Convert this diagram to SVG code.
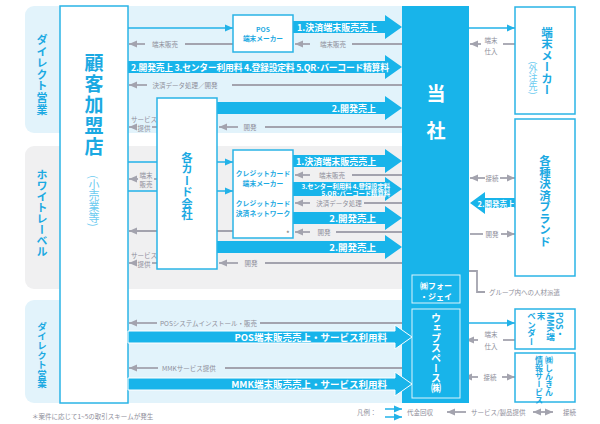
<svg xmlns="http://www.w3.org/2000/svg" width="600" height="424" viewBox="0 0 600 424">
<defs>
<style>
text{font-family:"Noto Sans CJK JP","Noto Sans",sans-serif;dominant-baseline:central}
.bb{fill:#e2f3fb}
.gb{fill:#f0f0f1}
.box{fill:#fff;stroke:#2ab4e6;stroke-width:1.5}
.fat{fill:#18b4ea}
.fatw{fill:#18b4ea;stroke:#fff;stroke-width:1}
.g{stroke:#a3a3ae;stroke-width:1.8;fill:none}
.ga{stroke:#a3a3ae;stroke-width:1.8;fill:none;marker-end:url(#ah)}
.bl{stroke:#22b2e8;stroke-width:1.5;fill:none;marker-end:url(#bh)}
.gt{font-size:6.5px;fill:#8e8e9a}
.ft{fill:#fff;font-weight:700}
.bt{fill:#1ba9e2;font-weight:700}
.lt{fill:#6ccbf0}
.v{writing-mode:vertical-rl;text-anchor:middle}
.vs{writing-mode:vertical-rl;text-anchor:start}
.inner{fill:none;stroke:#fff;stroke-opacity:0.85;stroke-width:1}
</style>
<marker id="ah" viewBox="0 0 8 8" refX="8" refY="4" markerWidth="8" markerHeight="8" markerUnits="userSpaceOnUse" orient="auto"><path d="M0,0.5L8,4L0,7.5z" fill="#a3a3ae"/></marker>
<marker id="bh" viewBox="0 0 8 8" refX="8" refY="4" markerWidth="8" markerHeight="8" markerUnits="userSpaceOnUse" orient="auto"><path d="M0,0.5L8,4L0,7.5z" fill="#22b2e8"/></marker>
</defs>

<g id="bands">
<rect class="bb" x="25" y="6" width="385" height="127" rx="9"/>
<rect class="gb" x="25" y="146" width="385" height="143" rx="9"/>
<rect class="bb" x="25" y="300" width="385" height="103" rx="9"/>
<text class="v bt" x="42" y="75" style="font-size:11px;letter-spacing:0.6px">ダイレクト営業</text>
<text class="v bt" x="42" y="213" style="font-size:11px">ホワイトレーベル</text>
<text class="v bt" x="42" y="355" style="font-size:9.5px">ダイレクト営業</text>
</g>

<g id="connectors">
<line class="bl" x1="128" y1="28" x2="233" y2="28"/>
<line class="bl" x1="128" y1="162" x2="233" y2="162"/>
<line class="bl" x1="128" y1="191" x2="233" y2="191"/>
<line class="ga" x1="233" y1="231" x2="129" y2="231"/>

<polygon class="fat" points="293,21 385,21 385,15 402,27 385,39 385,33 293,33"/>
<text class="ft" x="297" y="27" style="font-size:9px">1.決済端末販売売上</text>
<polygon class="fat" points="128,61 385,61 385,55 402,67 385,79 385,73 128,73"/>
<text class="ft" x="131" y="67" textLength="258" style="font-size:8.8px">2.開発売上 3.センター利用料 4.登録設定料 5.QR･バーコード精算料</text>
<polygon class="fat" points="217,102 385,102 385,96 402,108 385,120 385,114 217,114"/>
<text class="ft" x="376" y="108" style="font-size:9px;text-anchor:end">2.開発売上</text>

<line class="g" x1="402" y1="44" x2="352" y2="44"/>
<line class="ga" x1="310" y1="44" x2="295" y2="44"/>
<text class="gt" x="333" y="44" text-anchor="middle">端末販売</text>
<line class="g" x1="233" y1="44" x2="185" y2="44"/>
<line class="ga" x1="145" y1="44" x2="129" y2="44"/>
<text class="gt" x="165" y="44" text-anchor="middle">端末販売</text>
<line class="g" x1="402" y1="85" x2="232" y2="85"/>
<line class="ga" x1="147" y1="85" x2="129" y2="85"/>
<text class="gt" x="185" y="85" text-anchor="middle">決済データ処理／開発</text>
<line class="g" x1="402" y1="127" x2="265" y2="127"/>
<line class="ga" x1="238" y1="127" x2="219" y2="127"/>
<text class="gt" x="250" y="127" text-anchor="middle">開発</text>
<line class="g" x1="157" y1="127" x2="152" y2="127"/>
<line class="ga" x1="137" y1="127" x2="129" y2="127"/>
<text class="gt" text-anchor="middle"><tspan x="144" y="119">サービス</tspan><tspan x="144" y="127.5">提供</tspan></text>

<line class="g" x1="157" y1="179" x2="154" y2="179"/>
<line class="ga" x1="138" y1="179" x2="129" y2="179"/>
<text class="gt" text-anchor="middle"><tspan x="146" y="174.5">端末</tspan><tspan x="146" y="184">販売</tspan></text>
<line class="g" x1="157" y1="263" x2="152" y2="263"/>
<line class="ga" x1="137" y1="263" x2="129" y2="263"/>
<text class="gt" text-anchor="middle"><tspan x="144" y="255">サービス</tspan><tspan x="144" y="263.5">提供</tspan></text>

<polygon class="fat" points="293,155 385,155 385,149 402,161 385,173 385,167 293,167"/>
<text class="ft" x="296" y="161" style="font-size:9px">1.決済端末販売売上</text>
<polygon class="fat" points="293,182 385,182 385,177 402,189 385,201 385,196 293,196"/>
<text class="ft" style="font-size:6.3px;text-anchor:end"><tspan x="390" y="185.5">3.センター利用料 4.登録設定料</tspan><tspan x="390" y="193">5.QR･バーコード精算料</tspan></text>
<polygon class="fat" points="293,212 385,212 385,206 402,218 385,230 385,224 293,224"/>
<text class="ft" x="376" y="218" style="font-size:9.5px;text-anchor:end">2.開発売上</text>
<polygon class="fat" points="217,241 385,241 385,235 402,247 385,259 385,253 217,253"/>
<text class="ft" x="376" y="247" style="font-size:9.5px;text-anchor:end">2.開発売上</text>

<line class="g" x1="402" y1="175" x2="352" y2="175"/>
<line class="ga" x1="310" y1="175" x2="295" y2="175"/>
<text class="gt" x="332" y="175" text-anchor="middle">端末販売</text>
<line class="g" x1="402" y1="203" x2="364" y2="203"/>
<line class="ga" x1="310" y1="203" x2="295" y2="203"/>
<text class="gt" x="339" y="203" text-anchor="middle">決済データ処理</text>
<line class="g" x1="402" y1="232" x2="336" y2="232"/>
<line class="ga" x1="310" y1="232" x2="295" y2="232"/>
<text class="gt" x="324" y="232" text-anchor="middle">開発</text>
<line class="g" x1="402" y1="263" x2="265" y2="263"/>
<line class="ga" x1="238" y1="263" x2="219" y2="263"/>
<text class="gt" x="251" y="263" text-anchor="middle">開発</text>

<line class="g" x1="412" y1="323" x2="260" y2="323"/>
<line class="ga" x1="157" y1="323" x2="129" y2="323"/>
<text class="gt" x="160" y="323">POSシステムインストール・販売</text>
<line class="g" x1="412" y1="368" x2="225" y2="368"/>
<line class="ga" x1="158" y1="368" x2="129" y2="368"/>
<text class="gt" x="162" y="368">MMKサービス提供</text>

<line class="bl" x1="469" y1="28" x2="515" y2="28"/>
<line class="g" x1="515" y1="44" x2="503" y2="44"/>
<line class="ga" x1="481" y1="44" x2="470" y2="44"/>
<text class="gt" text-anchor="middle"><tspan x="491" y="39.5">端末</tspan><tspan x="491" y="51">仕入</tspan></text>
<line class="ga" x1="485" y1="178" x2="470" y2="178"/>
<line class="ga" x1="500" y1="178" x2="515" y2="178"/>
<text class="gt" x="492" y="178" text-anchor="middle">接続</text>
<polygon class="fat" points="515,198 485,198 485,192 470,203 485,214 485,208 515,208"/>
<text class="ft" x="496" y="203" style="font-size:7.5px;text-anchor:middle">2.開発売上</text>
<line class="g" x1="470" y1="234" x2="483" y2="234"/>
<line class="ga" x1="501" y1="234" x2="515" y2="234"/>
<text class="gt" x="492" y="234" text-anchor="middle">開発</text>
<polyline class="g" points="485,292 477,292 477,271 435,271 435,266"/>
<path d="M431,267L435,260L439,267z" fill="#a3a3ae"/>
<text class="gt" x="489" y="292">グループ内への人材派遣</text>
<line class="bl" x1="469" y1="323" x2="515" y2="323"/>
<line class="g" x1="515" y1="340" x2="503" y2="340"/>
<line class="ga" x1="478" y1="340" x2="466" y2="340"/>
<text class="gt" text-anchor="middle"><tspan x="491" y="334">端末</tspan><tspan x="491" y="346">仕入</tspan></text>
<line class="ga" x1="478" y1="377" x2="464" y2="377"/>
<line class="ga" x1="502" y1="377" x2="515" y2="377"/>
<text class="gt" x="490" y="377" text-anchor="middle">接続</text>
</g>

<g id="customer">
<rect class="box" x="60" y="6" width="68" height="397"/>
<text class="v bt" x="94" y="106" style="font-size:19px;letter-spacing:2px">顧客加盟店</text>
<text class="v lt" x="94" y="201" style="font-size:11px">(小売業等)</text>
</g>

<g id="card-company">
<rect class="box" x="157" y="98" width="60" height="171"/>
<text class="v bt" x="187" y="186" style="font-size:11.5px">各カード会社</text>
</g>

<g id="pos-maker">
<rect class="box" x="233" y="15" width="60" height="37"/>
<text class="bt" text-anchor="middle" style="font-size:6.7px"><tspan x="263" y="28.5">POS</tspan><tspan x="263" y="38">端末メーカー</tspan></text>
</g>

<g id="credit">
<rect class="box" x="233" y="150" width="60" height="88"/>
<text class="bt" text-anchor="middle" style="font-size:6.8px"><tspan x="263" y="173">クレジットカード</tspan><tspan x="263" y="183">端末メーカー</tspan></text>
<text class="bt" text-anchor="middle" style="font-size:6.8px"><tspan x="263" y="203">クレジットカード</tspan><tspan x="263" y="213">決済ネットワーク</tspan></text>
<text x="286" y="233" style="font-size:8px;fill:#777">*</text>
</g>

<g id="company">
<rect x="402" y="6" width="67" height="397" fill="#18b4ea"/>
<text class="ft" x="436" y="92" text-anchor="middle" style="font-size:19px">当</text>
<text class="ft" x="436" y="129" text-anchor="middle" style="font-size:19px">社</text>
</g>

<g id="forj">
<rect class="inner" x="412" y="275" width="48" height="28"/>
<text class="ft" text-anchor="middle" style="font-size:8px"><tspan x="436" y="284.5">㈱フォー</tspan><tspan x="436" y="296">・ジェイ</tspan></text>
</g>

<g id="webspace">
<rect class="inner" x="412" y="309" width="48" height="89"/>
<text class="v ft" x="436" y="353" style="font-size:10px">ウェブスペース㈱</text>
</g>

<g id="bottom-arrows">
<polygon class="fatw" points="128,331 395,331 395,325 412,337 395,349 395,343 128,343"/>
<text class="ft" x="387" y="337" style="font-size:9.5px;text-anchor:end">POS端末販売売上・サービス利用料</text>
<polygon class="fatw" points="128,378 395,378 395,372 412,384 395,396 395,390 128,390"/>
<text class="ft" x="387" y="384" style="font-size:9.5px;text-anchor:end">MMK端末販売売上・サービス利用料</text>
</g>

<g id="terminal-maker">
<rect class="box" x="515" y="7" width="60" height="107"/>
<text class="v bt" x="547" y="61" style="font-size:11.5px">端末メーカー</text>
<text class="v lt" x="533" y="78" style="font-size:9px">(外注先)</text>
</g>

<g id="brands">
<rect class="box" x="515" y="119" width="60" height="157"/>
<text class="v bt" x="545" y="201" style="font-size:11.5px">各種決済ブランド</text>
</g>

<g id="vendor">
<rect class="box" x="515" y="309" width="60" height="40"/>
<text class="vs bt" x="560" y="312" style="font-size:8.5px">POS・</text>
<text class="vs bt" x="550.5" y="312" style="font-size:8.5px">MMK端</text>
<text class="vs bt" x="541" y="312" style="font-size:8.5px">末</text>
<text class="vs bt" x="531.5" y="312" style="font-size:8.5px">ベンダー</text>
</g>

<g id="shinkin">
<rect class="box" x="515" y="353" width="60" height="49"/>
<text class="vs bt" x="549" y="356" style="font-size:8px">㈱しんきん</text>
<text class="vs bt" x="539" y="356" style="font-size:8px">情報サービス</text>
</g>

<g id="notes">
<text x="32" y="416" style="font-size:6.5px;fill:#8e8e9a">＊案件に応じて1~5の取引スキームが発生</text>
<text x="357" y="412" style="font-size:6.5px;fill:#8e8e9a">凡例：</text>
<line class="bl" x1="385" y1="409" x2="402" y2="409"/>
<line class="bl" x1="385" y1="417" x2="402" y2="417"/>
<text x="407" y="412" style="font-size:6.5px;fill:#8e8e9a">代金回収</text>
<line class="ga" x1="466" y1="412" x2="447" y2="412"/>
<text x="471" y="412" style="font-size:6.5px;fill:#8e8e9a">サービス/製品提供</text>
<line class="ga" x1="543" y1="412" x2="533" y2="412"/>
<line class="ga" x1="543" y1="412" x2="553" y2="412"/>
<text x="563" y="412" style="font-size:6.5px;fill:#8e8e9a">接続</text>
</g>
</svg>
